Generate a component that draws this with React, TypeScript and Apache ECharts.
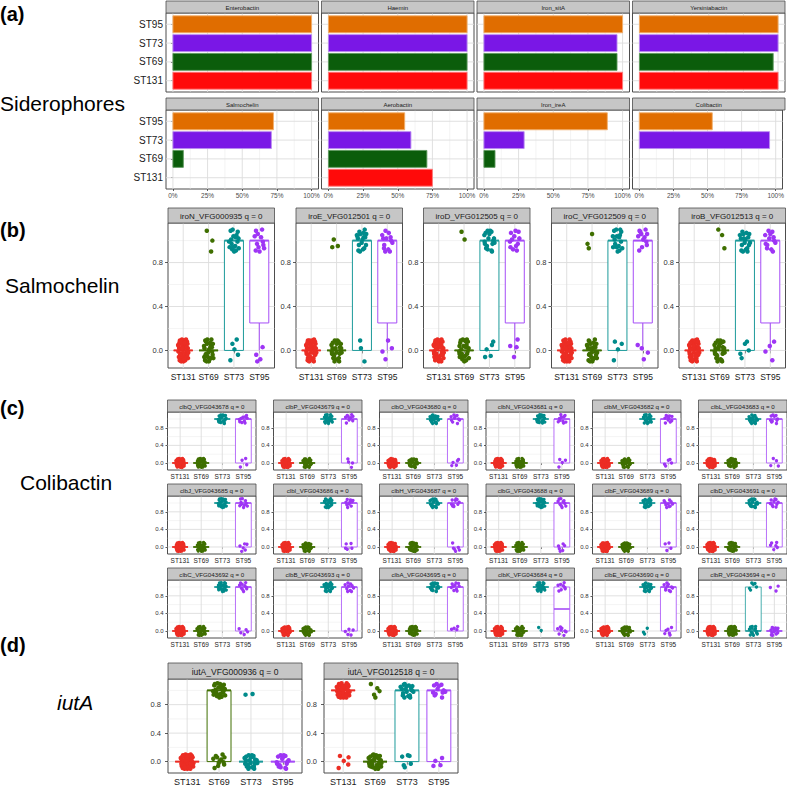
import React, { useEffect, useRef } from "react";
import * as echarts from "echarts";

const GROUPS = ["ST131", "ST69", "ST73", "ST95"];

// ---------- (a) Siderophores: % of isolates ----------
const SID_FACETS = ["Enterobactin", "Haemin", "Iron_sitA", "Yersiniabactin", "Salmochelin", "Aerobactin", "Iron_ireA", "Colibactin"];
const SID_ST131 = [100, 100, 100, 100, 0, 75, 0, 0];
const SID_ST69 = [100, 100, 96, 96.5, 7.5, 71, 8, 0];
const SID_ST73 = [100, 100, 96, 100, 71, 59.5, 29, 95.5];
const SID_ST95 = [100, 100, 100, 100, 72.5, 55, 89, 53.5];
const SID_TICKS = [0, 25, 50, 75, 100];

// ---------- (b) Salmochelin genes: counts of absent (0) / present (1) per ST ----------
const SALMO_GENES = ["iroN_VFG000935", "iroE_VFG012501", "iroD_VFG012505", "iroC_VFG012509", "iroB_VFG012513"];
const SALMO_ZEROS = [
  [40, 26, 5, 4],
  [40, 26, 3, 4],
  [40, 26, 5, 4],
  [40, 26, 4, 4],
  [40, 26, 5, 4],
];
const SALMO_ONES = [
  [0, 3, 18, 12],
  [0, 3, 18, 13],
  [0, 2, 18, 12],
  [0, 3, 17, 12],
  [0, 3, 18, 13],
];
// box [q1, median, q3] per ST
const SALMO_BOX = [
  [[0, 0, 0], [0, 0, 0], [0, 1, 1], [0.25, 1, 1]],
  [[0, 0, 0], [0, 0, 0], [0, 1, 1], [0.25, 1, 1]],
  [[0, 0, 0], [0, 0, 0], [0, 1, 1], [0.25, 1, 1]],
  [[0, 0, 0], [0, 0, 0], [0, 1, 1], [0.25, 1, 1]],
  [[0, 0, 0], [0, 0, 0], [0, 1, 1], [0.25, 1, 1]],
];

// ---------- (c) Colibactin genes ----------
const CLB_GENES = [
  "clbQ_VFG043678", "clbP_VFG043679", "clbO_VFG043680", "clbN_VFG043681", "clbM_VFG043682", "clbL_VFG043683",
  "clbJ_VFG043685", "clbI_VFG043686", "clbH_VFG043687", "clbG_VFG043688", "clbF_VFG043689", "clbD_VFG043691",
  "clbC_VFG043692", "clbB_VFG043693", "clbA_VFG043695", "clbK_VFG043684", "clbE_VFG043690", "clbR_VFG043694",
];
const CLB_ZEROS = [
  [40, 26, 0, 4], [40, 26, 0, 4], [40, 26, 0, 5], [40, 26, 0, 4], [40, 26, 0, 5], [40, 26, 0, 4],
  [40, 26, 0, 6], [40, 26, 0, 5], [40, 26, 0, 6], [40, 26, 0, 6], [40, 26, 0, 4], [40, 26, 0, 6],
  [40, 26, 0, 5], [40, 26, 0, 5], [40, 26, 0, 4], [40, 26, 2, 8], [40, 26, 3, 6], [40, 26, 14, 13],
];
const CLB_ONES = [
  [0, 0, 20, 10], [0, 0, 20, 10], [0, 0, 20, 10], [0, 0, 20, 10], [0, 0, 20, 10], [0, 0, 20, 10],
  [0, 0, 20, 10], [0, 0, 20, 10], [0, 0, 20, 10], [0, 0, 20, 10], [0, 0, 20, 10], [0, 0, 20, 10],
  [0, 0, 20, 10], [0, 0, 20, 10], [0, 0, 20, 10], [0, 0, 20, 8], [0, 0, 19, 10], [0, 0, 6, 3],
];
const CLB_BOX_STD = [[0, 0, 0], [0, 0, 0], [1, 1, 1], [0, 1, 1]];
const CLB_BOX_K = [[0, 0, 0], [0, 0, 0], [1, 1, 1], [0, 0.5, 1]];
const CLB_BOX_R = [[0, 0, 0], [0, 0, 0], [0, 0, 1], [0, 0, 0]];
const CLB_BOX = [
  CLB_BOX_STD, CLB_BOX_STD, CLB_BOX_STD, CLB_BOX_STD, CLB_BOX_STD, CLB_BOX_STD,
  CLB_BOX_STD, CLB_BOX_STD, CLB_BOX_STD, CLB_BOX_STD, CLB_BOX_STD, CLB_BOX_STD,
  CLB_BOX_STD, CLB_BOX_STD, CLB_BOX_STD, CLB_BOX_K, CLB_BOX_STD, CLB_BOX_R,
];

// ---------- (d) iutA ----------
const IUTA_GENES = ["iutA_VFG000936", "iutA_VFG012518"];
const IUTA_ZEROS = [
  [45, 12, 24, 16],
  [5, 30, 6, 4],
];
const IUTA_ONES = [
  [0, 22, 2, 0],
  [40, 5, 18, 12],
];
const IUTA_BOX = [
  [[0, 0, 0], [0, 1, 1], [0, 0, 0], [0, 0, 0]],
  [[1, 1, 1], [0, 0, 0], [0, 1, 1], [0, 1, 1]],
];

// hand-typed jitter offsets [dx, dy] (display only)
const JITTER = [
  [0.12, -0.03], [-0.15, 0.07], [0.03, 0.09], [-0.07, -0.08], [0.18, 0.02], [-0.19, -0.01], [0.08, -0.09], [-0.02, 0.04],
  [0.15, 0.08], [-0.11, 0.01], [0.05, -0.05], [-0.17, -0.06], [0.1, 0.05], [-0.05, 0.1], [0.19, -0.07], [-0.09, -0.03],
  [0.01, -0.1], [-0.13, 0.09], [0.14, -0.01], [-0.03, -0.06], [0.07, 0.03], [-0.18, 0.04], [0.11, 0.1], [-0.06, 0.06],
  [0.16, -0.04], [-0.14, -0.09], [0.02, 0.01], [-0.1, 0.08], [0.17, 0.06], [-0.01, -0.02], [0.09, -0.07], [-0.16, 0.02],
  [0.06, 0.07], [-0.08, -0.1], [0.13, 0.03], [-0.12, -0.04], [0.04, -0.08], [-0.2, 0.05], [0.2, -0.02], [-0.04, 0.02],
  [0.1, -0.1], [-0.07, 0.09], [0.15, 0.0], [-0.13, -0.07], [0.0, 0.06], [-0.18, -0.03], [0.08, 0.08], [-0.1, -0.05],
];

// ---------- styles / layout ----------
const FONT = "'Liberation Sans', Arial, Helvetica, sans-serif";
const SID_FILL = ["#FF0A0A", "#0B5D0B", "#7A17E6", "#E06D00"];
const SID_EDGE = ["#FF7A7A", "#5E9A5E", "#B98AF2", "#F2AE6A"];
const PT_COLORS = ["#EC2D24", "#3F6F00", "#008B8B", "#9E35F5"];
const BOX_COLORS = ["#EC2D24", "#3F6F00", "#1C9A9A", "#A64DF7"];
const BORDER = "#4d4d4d";
const STRIP_FILL = "#C6C6C6";
const GRID_MAJOR = "#DCDCDC";
const GRID_MINOR = "#E9E9E9";

const A_LEFT = [166, 321.5, 477, 632.5];
const A_W = 152.5;
const A_TOP = [13, 110];
const A_H = 79;
const A_STRIP = 12;
const A_MINOR = [12.5, 37.5, 62.5, 87.5];

const B_LEFT = [168, 296, 423.5, 551.5, 679];
const B_W = 106.5;
const B_TOP = 223;
const B_H = 145;
const B_STRIP = 15;

const C_LEFT = [167.5, 273.5, 379.5, 486, 592.5, 698.5];
const C_W = 88.5;
const C_TOP = [412, 496, 580];
const C_H = 58;
const C_STRIP = 12;

const D_LEFT = [168, 324];
const D_W = 134;
const D_TOP = 679;
const D_H = 95;
const D_STRIP = 16;

const Y_MIN = -0.16;
const Y_MAX = 1.16;
const X_MIN = 0.4;
const X_MAX = 4.6;

function buildOption() {
  const grid: any[] = [];
  const xAxis: any[] = [];
  const yAxis: any[] = [];
  const series: any[] = [];
  const graphic: any[] = [];

  const addText = (x: number, y: number, text: string, font: string, align = "left") => {
    graphic.push({
      type: "text",
      x,
      y,
      silent: true,
      z: 20,
      style: { text, fill: "#000", font, textAlign: align, textVerticalAlign: "middle", align, verticalAlign: "middle" },
    });
  };

  const addStrip = (x: number, y: number, w: number, h: number, text: string, fs: number) => {
    graphic.push({
      type: "rect",
      silent: true,
      z: 10,
      shape: { x, y, width: w, height: h },
      style: { fill: STRIP_FILL, stroke: BORDER, lineWidth: 0.8 },
    });
    graphic.push({
      type: "text",
      x: x + w / 2,
      y: y + h / 2 + 0.5,
      silent: true,
      z: 11,
      style: { text, fill: "#1a1a1a", font: `${fs}px ${FONT}`, textAlign: "center", textVerticalAlign: "middle", align: "center", verticalAlign: "middle" },
    });
  };

  const gridLines = (gi: number, items: number[][], xr: number[], yr: number[]) => ({
    type: "custom",
    xAxisIndex: gi,
    yAxisIndex: gi,
    silent: true,
    z: 1,
    data: items,
    renderItem: (_p: any, api: any) => {
      const v = api.value(0);
      const o = api.value(1);
      const m = api.value(2);
      const a = o === 0 ? api.coord([v, yr[0]]) : api.coord([xr[0], v]);
      const b = o === 0 ? api.coord([v, yr[1]]) : api.coord([xr[1], v]);
      return {
        type: "line",
        shape: { x1: a[0], y1: a[1], x2: b[0], y2: b[1] },
        style: { stroke: m ? GRID_MAJOR : GRID_MINOR, lineWidth: m ? 0.9 : 0.5 },
      };
    },
  });

  // ---------- (a) ----------
  SID_FACETS.forEach((name, f) => {
    const row = Math.floor(f / 4);
    const col = f % 4;
    const left = A_LEFT[col];
    const top = A_TOP[row];
    const gi = grid.length;
    grid.push({ left, top, width: A_W, height: A_H, show: true, borderColor: BORDER, borderWidth: 1, backgroundColor: "#fff" });
    xAxis.push({
      gridIndex: gi, type: "value", min: -5, max: 105,
      axisLine: { show: false }, splitLine: { show: false },
      axisTick: { show: row === 1, customValues: SID_TICKS, length: 2, lineStyle: { color: "#333", width: 0.8 } },
      axisLabel: { show: row === 1, customValues: SID_TICKS, formatter: (v: number) => `${v}%`, fontSize: 6.5, color: "#4d4d4d", margin: 3, fontFamily: FONT },
    });
    yAxis.push({
      gridIndex: gi, type: "value", min: 0.4, max: 4.6,
      axisLine: { show: false }, splitLine: { show: false },
      axisTick: { show: col === 0, customValues: [1, 2, 3, 4], length: 2, lineStyle: { color: "#333", width: 0.8 } },
      axisLabel: { show: col === 0, customValues: [1, 2, 3, 4], formatter: (v: number) => GROUPS[Math.round(v) - 1], fontSize: 10, color: "#1a1a1a", margin: 3, fontFamily: FONT },
    });
    const gl: number[][] = [];
    A_MINOR.forEach((t) => gl.push([t, 0, 0]));
    SID_TICKS.forEach((t) => gl.push([t, 0, 1]));
    [1, 2, 3, 4].forEach((c) => gl.push([c, 1, 1]));
    series.push(gridLines(gi, gl, [-5, 105], [0.4, 4.6]));
    const vals = [SID_ST131[f], SID_ST69[f], SID_ST73[f], SID_ST95[f]];
    series.push({
      type: "custom", xAxisIndex: gi, yAxisIndex: gi, silent: true, z: 2,
      data: vals.map((v, g) => [v, g + 1, g]).filter((d) => d[0] > 0),
      renderItem: (_p: any, api: any) => {
        const v = api.value(0);
        const c = api.value(1);
        const g = api.value(2);
        const p0 = api.coord([0, c + 0.45]);
        const p1 = api.coord([v, c - 0.45]);
        return {
          type: "rect",
          shape: { x: p0[0], y: p0[1], width: p1[0] - p0[0], height: p1[1] - p0[1] },
          style: { fill: SID_FILL[g], stroke: SID_EDGE[g], lineWidth: 0.9 },
        };
      },
    });
    addStrip(left, top - A_STRIP, A_W, A_STRIP, name, 6);
  });

  // ---------- box + jitter facets ----------
  let facetCounter = 0;
  const addBoxFacet = (
    name: string, left: number, top: number, w: number, h: number, stripH: number,
    zeros: number[], ones: number[], box: number[][], S: any
  ) => {
    const gi = grid.length;
    const fi = facetCounter++;
    grid.push({ left, top, width: w, height: h, show: true, borderColor: BORDER, borderWidth: 1, backgroundColor: "#fff" });
    xAxis.push({
      gridIndex: gi, type: "value", min: X_MIN, max: X_MAX,
      axisLine: { show: false }, splitLine: { show: false },
      axisTick: { show: true, customValues: [1, 2, 3, 4], length: S.tickLen, lineStyle: { color: "#333", width: 0.8 } },
      axisLabel: { show: true, customValues: [1, 2, 3, 4], formatter: (v: number) => GROUPS[Math.round(v) - 1], fontSize: S.xFont, color: "#1a1a1a", margin: S.xMargin, fontFamily: FONT },
    });
    yAxis.push({
      gridIndex: gi, type: "value", min: Y_MIN, max: Y_MAX,
      axisLine: { show: false }, splitLine: { show: false },
      axisTick: { show: true, customValues: [0, 0.4, 0.8], length: S.tickLen, lineStyle: { color: "#333", width: 0.8 } },
      axisLabel: { show: true, customValues: [0, 0.4, 0.8], formatter: (v: number) => v.toFixed(1), fontSize: S.yFont, color: "#333", margin: S.yMargin, fontFamily: FONT },
    });
    const gl: number[][] = [];
    [0.2, 0.6, 1.0].forEach((t) => gl.push([t, 1, 0]));
    [0, 0.4, 0.8].forEach((t) => gl.push([t, 1, 1]));
    [1, 2, 3, 4].forEach((c) => gl.push([c, 0, 1]));
    series.push(gridLines(gi, gl, [X_MIN, X_MAX], [Y_MIN, Y_MAX]));

    // boxes
    const boxData = box.map((b, g) => {
      const [q1, med, q3] = b;
      const iqr = q3 - q1;
      const lo = zeros[g] > 0 && q1 > 0 && q1 - 1.5 * iqr <= 0 ? 0 : q1;
      const hi = ones[g] > 0 && q3 < 1 && q3 + 1.5 * iqr >= 1 ? 1 : q3;
      return [g + 1, q1, med, q3, lo, hi, g];
    });
    series.push({
      type: "custom", xAxisIndex: gi, yAxisIndex: gi, silent: true, z: 2,
      data: boxData,
      renderItem: (_p: any, api: any) => {
        const x = api.value(0);
        const q1 = api.value(1);
        const med = api.value(2);
        const q3 = api.value(3);
        const lo = api.value(4);
        const hi = api.value(5);
        const g = api.value(6);
        const hw = 0.375;
        const col = BOX_COLORS[g];
        const tl = api.coord([x - hw, q3]);
        const br = api.coord([x + hw, q1]);
        const mL = api.coord([x - hw, med]);
        const mR = api.coord([x + hw, med]);
        const children: any[] = [];
        if (lo < q1) {
          const a = api.coord([x, q1]);
          const b = api.coord([x, lo]);
          children.push({ type: "line", shape: { x1: a[0], y1: a[1], x2: b[0], y2: b[1] }, style: { stroke: col, lineWidth: S.lw } });
        }
        if (hi > q3) {
          const a = api.coord([x, q3]);
          const b = api.coord([x, hi]);
          children.push({ type: "line", shape: { x1: a[0], y1: a[1], x2: b[0], y2: b[1] }, style: { stroke: col, lineWidth: S.lw } });
        }
        children.push({
          type: "rect",
          shape: { x: tl[0], y: tl[1], width: br[0] - tl[0], height: br[1] - tl[1] },
          style: { fill: "#fff", stroke: col, lineWidth: S.lw },
        });
        children.push({ type: "line", shape: { x1: mL[0], y1: mL[1], x2: mR[0], y2: mR[1] }, style: { stroke: col, lineWidth: S.lw * 2 } });
        return { type: "group", children };
      },
    });

    // jittered points
    GROUPS.forEach((_gname, g) => {
      const pts: number[][] = [];
      const s0 = (fi * 17 + g * 11) % JITTER.length;
      const s1 = (s0 + 29) % JITTER.length;
      for (let i = 0; i < zeros[g]; i++) {
        const j = JITTER[(s0 + i) % JITTER.length];
        pts.push([g + 1 + j[0], 0 + j[1]]);
      }
      for (let i = 0; i < ones[g]; i++) {
        const j = JITTER[(s1 + i) % JITTER.length];
        pts.push([g + 1 + j[0], 1 + j[1]]);
      }
      series.push({
        type: "scatter", xAxisIndex: gi, yAxisIndex: gi, silent: true, z: 3,
        data: pts, symbolSize: S.pt, itemStyle: { color: PT_COLORS[g], opacity: 1 },
      });
    });

    addStrip(left, top - stripH, w, stripH, `${name} q = 0`, S.stripFont);
  };

  const SB = { pt: 4.5, xFont: 8.5, yFont: 7.5, stripFont: 8, xMargin: 4, yMargin: 5, tickLen: 3, lw: 1 };
  const SC = { pt: 3.4, xFont: 6.5, yFont: 6, stripFont: 6.2, xMargin: 3, yMargin: 4, tickLen: 2, lw: 0.8 };
  const SD = { pt: 4.5, xFont: 9, yFont: 7.5, stripFont: 8.5, xMargin: 4, yMargin: 7, tickLen: 3, lw: 1 };

  SALMO_GENES.forEach((name, i) => {
    addBoxFacet(name, B_LEFT[i], B_TOP, B_W, B_H, B_STRIP, SALMO_ZEROS[i], SALMO_ONES[i], SALMO_BOX[i], SB);
  });
  CLB_GENES.forEach((name, i) => {
    const row = Math.floor(i / 6);
    const col = i % 6;
    addBoxFacet(name, C_LEFT[col], C_TOP[row], C_W, C_H, C_STRIP, CLB_ZEROS[i], CLB_ONES[i], CLB_BOX[i], SC);
  });
  IUTA_GENES.forEach((name, i) => {
    addBoxFacet(name, D_LEFT[i], D_TOP, D_W, D_H, D_STRIP, IUTA_ZEROS[i], IUTA_ONES[i], IUTA_BOX[i], SD);
  });

  // ---------- row titles ----------
  addText(0, 14, "(a)", `bold 20px ${FONT}`);
  addText(0, 103, "Siderophores", `21px ${FONT}`);
  addText(0, 230, "(b)", `bold 20px ${FONT}`);
  addText(5, 285, "Salmochelin", `21px ${FONT}`);
  addText(0, 408, "(c)", `bold 20px ${FONT}`);
  addText(20, 482, "Colibactin", `21px ${FONT}`);
  addText(0, 645, "(d)", `bold 20px ${FONT}`);
  addText(57, 702, "iutA", `italic 21px ${FONT}`);

  return {
    animation: false,
    backgroundColor: "#fff",
    textStyle: { fontFamily: FONT },
    grid,
    xAxis,
    yAxis,
    series,
    graphic: { elements: graphic },
  };
}

export default function App() {
  const ref = useRef<HTMLDivElement>(null);
  useEffect(() => {
    if (!ref.current) return;
    const chart = echarts.init(ref.current, null, { renderer: "svg" });
    chart.setOption(buildOption());
    return () => chart.dispose();
  }, []);
  return (
    <div
      ref={ref}
      style={{ position: "absolute", left: 0, top: 0, width: 787, height: 786, background: "#fff" }}
    />
  );
}
